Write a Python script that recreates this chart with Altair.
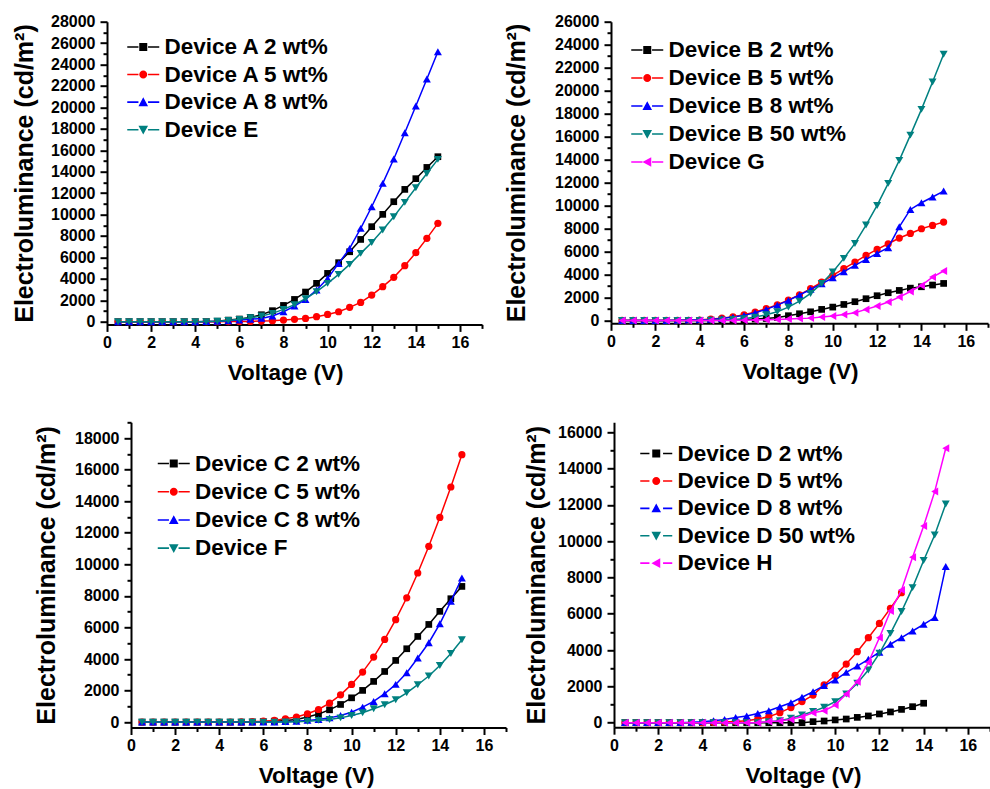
import altair as alt
import pandas as pd

FONT = "Liberation Sans"

# ---------------- data ----------------
V = [0.5, 1.0, 1.5, 2.0, 2.5, 3.0, 3.5, 4.0, 4.5, 5.0, 5.5, 6.0, 6.5, 7.0, 7.5,
     8.0, 8.5, 9.0, 9.5, 10.0, 10.5, 11.0, 11.5, 12.0, 12.5, 13.0, 13.5, 14.0, 14.5, 15.0]

# Panel A
a_names = ["Device A 2 wt%", "Device A 5 wt%", "Device A 8 wt%", "Device E"]
a2 = [0, 0, 0, 0, 0, 0, 0, 0, 10, 50, 150, 250, 400, 650, 1030, 1520, 2080, 2770, 3580, 4510,
      5510, 6530, 7680, 8870, 10020, 11200, 12350, 13350, 14400, 15400]
a5 = [0, 0, 0, 0, 0, 0, 0, 0, 0, 5, 10, 20, 30, 60, 90, 150, 220, 310, 470, 680,
      930, 1340, 1800, 2490, 3270, 4140, 5230, 6440, 7780, 9180]
a8 = [0, 0, 0, 0, 0, 0, 0, 0, 10, 30, 80, 150, 220, 310, 530, 930, 1460, 2080, 2960, 4040,
      5440, 6840, 8710, 10730, 12910, 15180, 17640, 20130, 22650, 25200]
aE = [0, 0, 0, 0, 0, 0, 0, 0, 10, 40, 120, 220, 370, 530, 780, 1150, 1590, 2150, 2800, 3580,
      4420, 5350, 6380, 7400, 8560, 9800, 11140, 12500, 13840, 15150]

# Panel B
b_names = ["Device B 2 wt%", "Device B 5 wt%", "Device B 8 wt%", "Device B 50 wt%", "Device G"]
b2 = [0, 0, 0, 0, 0, 0, 0, 0, 0, 10, 30, 60, 120, 170, 260, 410, 580, 750, 960, 1160,
      1390, 1630, 1890, 2150, 2410, 2610, 2810, 2930, 3080, 3220]
b5 = [0, 0, 0, 0, 0, 0, 10, 30, 120, 200, 320, 490, 730, 1020, 1360, 1770, 2230, 2760, 3340, 3920,
      4500, 5080, 5660, 6180, 6670, 7170, 7570, 7980, 8270, 8560]
b8 = [0, 0, 0, 0, 0, 10, 30, 60, 90, 170, 290, 440, 670, 960, 1330, 1740, 2210, 2700, 3190, 3710,
      4240, 4790, 5310, 5830, 6330, 8150, 9660, 10240, 10740, 11260]
b50 = [0, 0, 0, 0, 0, 0, 0, 0, 10, 40, 90, 150, 290, 490, 750, 1160, 1680, 2350, 3220, 4210,
       5400, 6700, 8300, 10010, 11930, 13930, 16130, 18370, 20750, 23160]
bG = [0, 0, 0, 0, 0, 0, 0, 0, 0, 0, 0, 20, 40, 60, 90, 120, 170, 200, 290, 380,
      520, 670, 960, 1250, 1600, 2030, 2520, 3050, 3770, 4300]

# Panel C
c_names = ["Device C 2 wt%", "Device C 5 wt%", "Device C 8 wt%", "Device F"]
c2 = [0, 0, 0, 0, 0, 0, 0, 0, 0, 0, 10, 30, 60, 110, 170, 320, 510, 780, 1120, 1540,
      2010, 2580, 3210, 3910, 4650, 5430, 6190, 7020, 7820, 8600]
c5 = [0, 0, 0, 0, 0, 0, 0, 0, 0, 10, 30, 60, 110, 210, 320, 530, 800, 1200, 1730, 2390,
      3170, 4120, 5240, 6490, 7880, 9450, 11140, 12970, 14900, 16950]
c8 = [0, 0, 0, 0, 0, 0, 0, 0, 0, 0, 0, 0, 10, 30, 60, 110, 170, 270, 420, 630,
      950, 1310, 1800, 2390, 3130, 4060, 5030, 6230, 7650, 9130]
cF = [0, 0, 0, 0, 0, 0, 0, 0, 0, 0, 0, 0, 0, 10, 30, 60, 110, 170, 270, 420,
      590, 850, 1100, 1420, 1860, 2370, 2920, 3590, 4350, 5220]

# Panel D
d_names = ["Device D 2 wt%", "Device D 5 wt%", "Device D 8 wt%", "Device D 50 wt%", "Device H"]
d2 = [0, 0, 0, 0, 0, 0, 0, 0, 0, 0, 0, 0, 0, 0, 0, 0, 0, 55, 90, 150,
      200, 290, 370, 480, 590, 730, 880, 1070]
d5 = [0, 0, 0, 0, 0, 0, 0, 0, 20, 40, 70, 110, 200, 330, 550, 830, 1160, 1520, 2080, 2610,
      3230, 3910, 4680, 5470, 6300, 7160]
d8 = [0, 0, 0, 0, 0, 0, 20, 55, 110, 180, 280, 370, 510, 660, 880, 1100, 1400, 1710, 2040, 2350,
      2770, 3120, 3490, 3880, 4320, 4680, 5050, 5420, 5790, 8600]
d50 = [0, 0, 0, 0, 0, 0, 0, 0, 0, 0, 0, 0, 0, 55, 110, 240, 420, 610, 850, 1160,
       1580, 2170, 2900, 3820, 4920, 6120, 7440, 8930, 10340, 12050]
dH = [0, 0, 0, 0, 0, 0, 0, 0, 0, 0, 0, 0, 0, 60, 90, 180, 330, 550, 660, 970,
      1580, 2260, 3310, 4680, 6150, 7310, 9110, 10840, 12730, 15120]

BLACK, RED, BLUE, TEAL, MAG = "#000000", "#FF0000", "#0000FF", "#008080", "#FF00FF"

X_TICKS = list(range(0, 18))

# legend glyphs: line + marker (custom SVG paths)
LINE = "M-2,-0.1H-0.6V0.1H-2Z M0.6,-0.1H2V0.1H0.6Z"
LINE_D = "M-2,-0.1H-0.85V0.1H-2Z M0.85,-0.1H2V0.1H0.85Z"
MARK = {
    "square": "M-0.5,-0.5H0.5V0.5H-0.5Z",
    "circle": ("M0.5,0C0.5,0.276 0.276,0.5 0,0.5C-0.276,0.5 -0.5,0.276 -0.5,0"
               "C-0.5,-0.276 -0.276,-0.5 0,-0.5C0.276,-0.5 0.5,-0.276 0.5,0Z"),
    "triangle-up": "M0,-0.6L0.6,0.5L-0.6,0.5Z",
    "triangle-down": "M0,0.6L0.6,-0.5L-0.6,-0.5Z",
    "triangle-left": "M-0.6,0L0.5,-0.6L0.5,0.6Z",
}
SIZES = {"square": 45, "circle": 52, "triangle-up": 64, "triangle-down": 64, "triangle-left": 64}


def make_panel(key, names, series, colors, shapes, ydom, ytop, width, height, legx, legy, rowpad,
               ytitle_pad, xtitle_x, line_path=LINE):
    field = "series_" + key
    rows = []
    for n, vals in zip(names, series):
        for v, l in zip(V, vals):
            rows.append({"V": v, "L": l, field: n})
    df = pd.DataFrame(rows)

    y_ticks = list(range(0, ytop + 1, 1000))
    x_axis = alt.Axis(
        values=X_TICKS, format="d",
        labelExpr="datum.value % 2 === 0 ? datum.label : ''",
        tickSize={"condition": {"test": "datum.value % 2 === 0", "value": 7}, "value": 4},
        labelOverlap=False, labelFlush=False, grid=False,
        title="Voltage (V)", labelPadding=3, titlePadding=11, titleX=xtitle_x,
    )
    y_axis = alt.Axis(
        values=y_ticks, format="d",
        labelExpr="datum.value % 2000 === 0 ? datum.label : ''",
        tickSize={"condition": {"test": "datum.value % 2000 === 0", "value": 7}, "value": 4},
        labelOverlap=False, labelFlush=False, grid=False,
        title="Electroluminance (cd/m²)", labelPadding=5, titlePadding=ytitle_pad,
    )
    x_enc = alt.X("V:Q", scale=alt.Scale(domain=[0, 17], nice=False, zero=False), axis=x_axis)
    y_enc = alt.Y("L:Q", scale=alt.Scale(domain=ydom, nice=False, zero=False), axis=y_axis)

    layers = []
    for n, col, shp in zip(names, colors, shapes):
        base = alt.Chart(df).transform_filter(alt.datum[field] == n)
        layers.append(base.mark_line(color=col, strokeWidth=1.5).encode(x=x_enc, y=y_enc))
        layers.append(base.mark_point(shape=shp, filled=True, color=col, opacity=1,
                                      size=SIZES[shp]).encode(x=x_enc, y=y_enc))

    leg = alt.Legend(title=None, orient="none", legendX=legx, legendY=legy, rowPadding=rowpad)
    paths = [line_path + " " + MARK[s] for s in shapes]
    layers.append(
        alt.Chart(df).mark_point(filled=True, opacity=0).encode(
            x=x_enc, y=y_enc,
            color=alt.Color(field + ":N", scale=alt.Scale(domain=names, range=colors), legend=leg),
            shape=alt.Shape(field + ":N", scale=alt.Scale(domain=names, range=paths), legend=leg),
        )
    )
    return alt.layer(*layers).properties(width=width, height=height)


A = make_panel("A", a_names, [a2, a5, a8, aE], [BLACK, RED, BLUE, TEAL],
               ["square", "circle", "triangle-up", "triangle-down"],
               [-250, 28000], 28000, 375, 302.7, 25, 14, 4.6, 13, 178)
B = make_panel("B", b_names, [b2, b5, b8, b50, bG], [BLACK, RED, BLUE, TEAL, MAG],
               ["square", "circle", "triangle-up", "triangle-down", "triangle-left"],
               [-250, 26000], 26000, 377, 301.6, 25, 17, 5.0, 25, 189)
C = make_panel("C", c_names, [c2, c5, c8, cF], [BLACK, RED, BLUE, TEAL],
               ["square", "circle", "triangle-up", "triangle-down"],
               [-340, 19000], 19000, 375, 305.2, 31.5, 30, 5.2, 15, 185)
D = make_panel("D", d_names, [d2, d5, d8, d50, dH], [BLACK, RED, BLUE, TEAL, MAG],
               ["square", "circle", "triangle-up", "triangle-down", "triangle-left"],
               [-250, 16550], 16000, 376, 304.9, 31, 20, 4.4, 8, 189, line_path=LINE_D)

spacer = alt.Chart(pd.DataFrame({"s": [0]})).mark_point(opacity=0).encode(
    x=alt.X("s:Q", axis=None), y=alt.Y("s:Q", axis=None)
).properties(width=24, height=10)

row1 = alt.hconcat(A, B, spacing=129, bounds="flush").resolve_scale(
    color="independent", shape="independent")
cd = alt.hconcat(C, D, spacing=108, bounds="flush").resolve_scale(
    color="independent", shape="independent")
row2 = alt.hconcat(spacer, cd, spacing=0, bounds="flush").resolve_scale(
    color="independent", shape="independent")

chart = alt.vconcat(row1, row2, spacing=400.6, bounds="flush").resolve_scale(
    color="independent", shape="independent"
).properties(
    autosize=alt.AutoSizeParams(type="none"),
    padding={"left": 107, "top": 21.7, "right": 883, "bottom": 767},
).configure_view(stroke=None).configure_axis(
    labelFont=FONT, labelFontSize=16, labelFontWeight="bold", labelColor="black",
    titleFont=FONT, titleFontSize=22.5, titleFontWeight="bold", titleColor="black",
    domainColor="black", domainWidth=2, tickColor="black", tickWidth=2,
).configure_axisY(titleFontSize=25).configure_legend(
    labelFont=FONT, labelFontSize=22.5, labelFontWeight="bold", labelColor="black",
    symbolSize=256, symbolStrokeWidth=0, labelOffset=10, padding=0, symbolOpacity=1,
    labelLimit=400,
)

chart.save("out.html", embed_options={"renderer": "svg", "actions": False})
